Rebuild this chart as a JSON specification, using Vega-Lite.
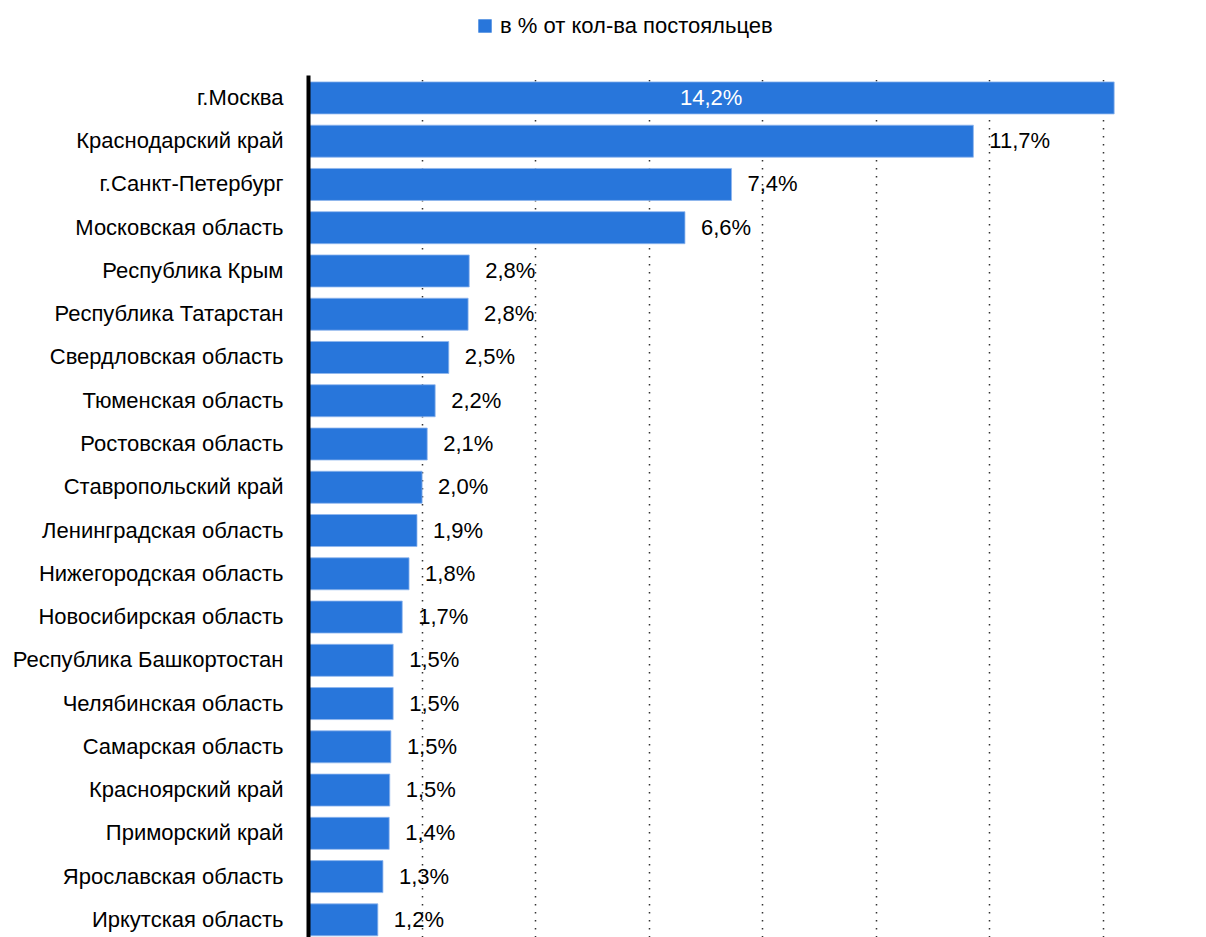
{
  "$schema": "https://vega.github.io/schema/vega-lite/v6.json",
  "autosize": "none",
  "padding": {"left": 308, "top": 75, "right": 1, "bottom": 0},
  "width": 897,
  "height": 862,
  "config": {
    "view": {"stroke": null},
    "font": "Liberation Sans",
    "text": {"font": "Liberation Sans"}
  },
  "data": {
    "values": [
      {"region": "г.Москва", "value": 14.2, "label": "14,2%"},
      {"region": "Краснодарский край", "value": 11.72, "label": "11,7%"},
      {"region": "г.Санкт-Петербург", "value": 7.46, "label": "7,4%"},
      {"region": "Московская область", "value": 6.64, "label": "6,6%"},
      {"region": "Республика Крым", "value": 2.84, "label": "2,8%"},
      {"region": "Республика Татарстан", "value": 2.82, "label": "2,8%"},
      {"region": "Свердловская область", "value": 2.48, "label": "2,5%"},
      {"region": "Тюменская область", "value": 2.24, "label": "2,2%"},
      {"region": "Ростовская область", "value": 2.1, "label": "2,1%"},
      {"region": "Ставропольский край", "value": 2.01, "label": "2,0%"},
      {"region": "Ленинградская область", "value": 1.92, "label": "1,9%"},
      {"region": "Нижегородская область", "value": 1.78, "label": "1,8%"},
      {"region": "Новосибирская область", "value": 1.66, "label": "1,7%"},
      {"region": "Республика Башкортостан", "value": 1.5, "label": "1,5%"},
      {"region": "Челябинская область", "value": 1.5, "label": "1,5%"},
      {"region": "Самарская область", "value": 1.46, "label": "1,5%"},
      {"region": "Красноярский край", "value": 1.44, "label": "1,5%"},
      {"region": "Приморский край", "value": 1.43, "label": "1,4%"},
      {"region": "Ярославская область", "value": 1.32, "label": "1,3%"},
      {"region": "Иркутская область", "value": 1.23, "label": "1,2%"}
    ]
  },
  "encoding": {
    "y": {
      "field": "region",
      "type": "nominal",
      "sort": null,
      "scale": {"paddingInner": 0.26, "paddingOuter": 0.093, "align": 0.86},
      "axis": {
        "title": null,
        "ticks": false,
        "domainColor": "#000000",
        "domainWidth": 4,
        "labelFontSize": 22,
        "labelColor": "#000000",
        "labelPadding": 25,
        "labelLimit": 400,
        "zindex": 1
      }
    },
    "x": {
      "field": "value",
      "type": "quantitative",
      "scale": {"domain": [0, 15.8], "nice": false, "zero": true},
      "axis": {
        "title": null,
        "labels": false,
        "ticks": false,
        "domain": false,
        "values": [2, 4, 6, 8, 10, 12, 14],
        "grid": true,
        "gridColor": "#333333",
        "gridWidth": 1.5,
        "gridDash": [1.5, 6.5]
      }
    }
  },
  "layer": [
    {
      "mark": {"type": "bar", "stroke": "#8fb6ee", "strokeWidth": 0.8},
      "encoding": {
        "color": {
          "datum": "в % от кол-ва постояльцев",
          "type": "nominal",
          "scale": {"range": ["#2876DB"]},
          "legend": {
            "title": null,
            "orient": "none",
            "legendX": 166,
            "legendY": -60,
            "symbolType": "square",
            "symbolSize": 180,
            "symbolStrokeWidth": 0,
            "labelFontSize": 22,
            "labelColor": "#000000",
            "labelOffset": 4,
            "labelLimit": 600
          }
        }
      }
    },
    {
      "transform": [{"filter": "datum.value < 13"}],
      "mark": {"type": "text", "align": "left", "dx": 16, "fontSize": 22, "color": "#000000"},
      "encoding": {"text": {"field": "label"}}
    },
    {
      "transform": [{"filter": "datum.value >= 13"}],
      "mark": {"type": "text", "align": "center", "dx": -403, "fontSize": 22, "color": "#ffffff"},
      "encoding": {"text": {"field": "label"}}
    }
  ]
}
